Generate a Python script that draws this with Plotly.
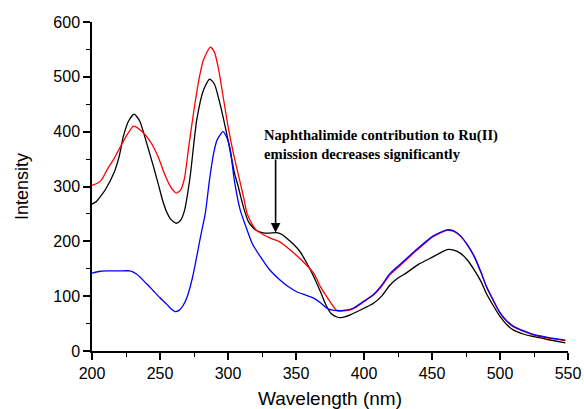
import plotly.graph_objects as go

# Black series
black_x = [200, 203, 206, 210, 216, 220, 223, 227, 231, 235, 240, 245, 249, 252, 255, 258, 262, 265, 268, 272, 277, 282, 286.5, 290, 294, 300, 305, 307, 310, 312, 315, 320, 325, 330, 336, 340, 343, 348, 353, 358, 363, 368, 372, 376, 380, 383, 390, 400, 407, 413, 419, 425, 431, 440, 451, 461, 466, 471, 476, 481, 486, 490, 495, 500, 505, 510, 517, 525, 535, 548]
black_y = [268, 272, 281, 295, 324, 355, 391, 420, 432, 420, 381, 338, 302, 274, 253, 240, 233, 238, 256, 315, 421, 476, 496, 487, 452, 385, 322, 305, 275, 257, 236, 221, 216, 215, 216, 212, 206, 195, 181, 160, 136, 108, 84, 68, 62, 61, 66, 78, 87, 100, 120, 133, 142, 158, 172, 185, 184, 178, 166, 148, 127, 105, 83, 63, 48, 38, 31, 26, 21, 15]

# Red series
red_x = [200, 204, 207, 211, 216, 221, 226, 230.5, 234, 238, 242, 245, 249, 253, 257, 260, 262, 265, 268, 271, 275, 279, 282, 287, 290, 293, 297, 300, 304, 308.5, 311.4, 314, 318, 321, 326, 332, 338, 344, 350, 356, 363, 368, 371, 375, 380, 385, 392, 400, 407, 413, 419, 427, 439, 451, 461, 466, 471, 476, 481, 486, 490, 495, 500, 505, 510, 517, 525, 535, 548]
red_y = [302, 306, 312, 330, 350, 373, 395, 410, 406, 397, 385, 373, 352, 325, 303, 292, 288, 293, 315, 370, 440, 500, 531, 554, 545, 515, 455, 410, 360, 312, 281, 251, 230, 220, 212, 205, 199, 188, 175, 161, 142, 117, 105, 90, 74, 73, 77, 90, 102, 118, 139, 157, 184, 209, 220, 218, 209, 193, 172, 143, 117, 92, 69, 54, 44, 36, 29, 24, 19]

# Blue series
blue_x = [200, 205, 211, 220, 228, 233, 240, 245, 250, 255, 258, 261, 264, 267, 270, 274, 277, 280, 283.3, 286.4, 289.4, 292, 296.3, 299, 301.7, 304.6, 309, 314, 318, 323.8, 330, 338, 344, 350.5, 357, 362.7, 368, 372.8, 376, 380, 385, 392, 400, 407, 413, 419, 427, 439, 451, 461, 466, 471, 476, 481, 486, 490, 495, 500, 505, 510, 517, 525, 535, 548]
blue_y = [142, 145, 146, 146, 146, 140, 123, 110, 97, 85, 77, 72, 74, 83, 99, 135, 172, 211, 251, 312, 360, 385, 400, 390, 367, 312, 257, 221, 195, 172, 150, 130, 118, 108, 102, 97, 88, 78, 75, 73.5, 74, 78, 91, 103, 120, 141, 159, 186, 210, 221, 219, 210, 194, 173, 144, 118, 93, 70, 55, 45, 37, 30, 25, 20]

x_ticks = [200, 250, 300, 350, 400, 450, 500, 550]
y_ticks = [0, 100, 200, 300, 400, 500, 600]

annot_text = "Naphthalimide contribution to Ru(II)<br>emission decreases significantly"

fig = go.Figure()
for xs, ys, col in [(black_x, black_y, "black"), (red_x, red_y, "red"), (blue_x, blue_y, "blue")]:
    fig.add_trace(go.Scatter(x=xs, y=ys, mode="lines", line=dict(color=col, width=1.3, shape="spline", smoothing=0.6), showlegend=False, hoverinfo="skip"))

fig.add_annotation(x=325.2, y=413, xref="x", yref="y", text="<b>" + annot_text + "</b>", showarrow=False,
                   xanchor="left", yanchor="top", align="left",
                   font=dict(family="Liberation Serif, Times New Roman, serif", size=14.6, color="black"))
fig.add_annotation(x=335, y=216, ax=335, ay=352, xref="x", yref="y", axref="x", ayref="y", text="",
                   showarrow=True, arrowhead=2, arrowsize=1.2, arrowwidth=1.6, arrowcolor="black")

axis_common = dict(showline=True, linecolor="black", linewidth=1.5, mirror=False, showgrid=False, zeroline=False,
                   ticks="outside", ticklen=7, tickwidth=1.5, tickcolor="black", automargin=False,
                   tickfont=dict(family="Liberation Sans, Arial, sans-serif", size=16, color="black"))
fig.update_xaxes(range=[200, 550], tickvals=x_ticks, title=dict(text="Wavelength (nm)", font=dict(family="Liberation Sans, Arial, sans-serif", size=19, color="black"), standoff=11),
                 minor=dict(dtick=25, ticks="outside", ticklen=4, tickwidth=1.2, tickcolor="black"), **axis_common)
fig.update_yaxes(range=[0, 600], tickvals=y_ticks, title=dict(text="Intensity", font=dict(family="Liberation Sans, Arial, sans-serif", size=18, color="black"), standoff=20),
                 minor=dict(dtick=50, ticks="outside", ticklen=4, tickwidth=1.2, tickcolor="black"), **axis_common)

fig.update_layout(width=584, height=409, margin=dict(l=92, r=16, t=22, b=58),
                  plot_bgcolor="white", paper_bgcolor="white")
fig.write_html("out.html")
